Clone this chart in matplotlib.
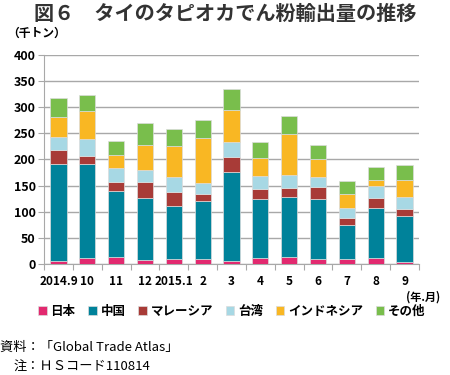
import matplotlib
matplotlib.use("Agg")
import matplotlib.pyplot as plt
import numpy as np

plt.rcParams['font.family'] = ['Noto Sans CJK JP', 'DejaVu Sans']

categories = ["2014.9", "10", "11", "12", "2015.1", "2", "3", "4", "5", "6", "7", "8", "9"]
japan     = [6, 12, 13, 7, 10, 9, 6, 11, 13, 9, 10, 11, 4]
china     = [186, 180, 127, 120, 101, 111, 169, 114, 116, 115, 64, 96, 87]
malaysia  = [26, 14, 17, 29, 27, 13, 30, 19, 16, 24, 13, 19, 15]
taiwan    = [25, 32, 26, 24, 28, 22, 28, 25, 25, 19, 21, 24, 22]
indonesia = [38, 54, 25, 48, 59, 86, 61, 33, 79, 33, 25, 10, 33]
others    = [37, 32, 27, 41, 34, 35, 40, 32, 33, 27, 26, 25, 28]

series = [("日本", japan, "#E2296F"),
          ("中国", china, "#00829A"),
          ("マレーシア", malaysia, "#A83B37"),
          ("台湾", taiwan, "#A7D8E4"),
          ("インドネシア", indonesia, "#F9B723"),
          ("その他", others, "#79BE4C")]

fig = plt.figure(figsize=(4.5, 3.75), dpi=100)
ax = fig.add_axes([0.098, 0.296, 0.833, 0.558])

x = np.arange(len(categories))
bottom = np.zeros(len(categories))
handles = []
for name, vals, col in series:
    b = ax.bar(x, vals, 0.56, bottom=bottom, color=col, edgecolor="#dcdcdc",
               linewidth=0.5, label=name, zorder=3)
    handles.append(b)
    bottom += np.array(vals)

ax.set_xlim(-0.5, len(categories) - 0.5)
ax.set_ylim(0, 400)
ax.set_yticks(np.arange(0, 401, 50))
ax.yaxis.grid(True, color="#a8a8a8", linewidth=1.0, zorder=0)
ax.set_axisbelow(True)
for s in ["top", "right"]:
    ax.spines[s].set_visible(False)
ax.spines["left"].set_color("#a8a8a8")
ax.spines["bottom"].set_color("#a8a8a8")
ax.tick_params(axis="y", length=4, color="#a8a8a8", labelsize=9, pad=2)
ax.set_xticks(np.arange(-0.5, len(categories), 1.0))
ax.set_xticklabels([])
ax.tick_params(axis="x", length=4, color="#a8a8a8")
for lbl in ax.get_yticklabels():
    lbl.set_fontweight("bold")
for i, c in enumerate(categories):
    ax.text(i, -0.085, c, transform=ax.get_xaxis_transform(), ha="center",
            va="center", fontsize=8.5, fontweight="bold")

fig.text(0.5, 0.963, "図６　タイのタピオカでん粉輸出量の推移", ha="center", va="center",
         fontsize=14.5, fontweight="bold", color="#333333")
fig.text(0.015, 0.912, "（千トン）", ha="left", va="center", fontsize=8.5, fontweight="bold")
fig.text(0.978, 0.208, "(年.月)", ha="right", va="center", fontsize=8, fontweight="bold")

fig.legend(handles=handles, labels=[s[0] for s in series], loc="center",
           bbox_to_anchor=(0.515, 0.170), ncol=6, frameon=False,
           handlelength=0.7, handleheight=0.7, handletextpad=0.3, columnspacing=1.0,
           prop={"weight": "bold", "size": 9})

fig.text(0.0, 0.075, "資料：「Global Trade Atlas」", ha="left", va="center", fontsize=9.5)
fig.text(0.03, 0.02, "注：ＨＳコード110814", ha="left", va="center", fontsize=9.5)

fig.savefig("out.png", dpi=100)
